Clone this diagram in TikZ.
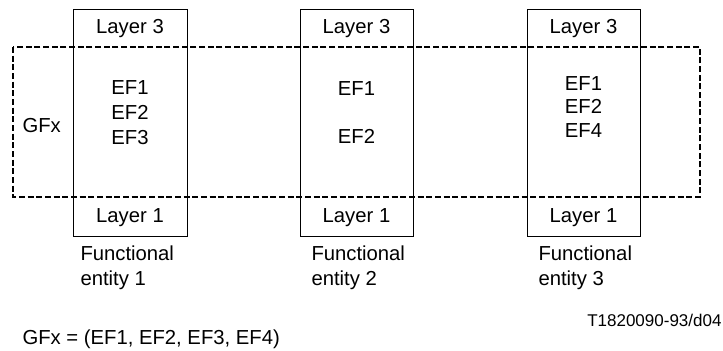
\documentclass[tikz,border=0pt]{standalone}
\usepackage{fontspec}
\setmainfont{Liberation Sans}

\tikzset{every picture/.style={line width=0.75pt}}
\tikzset{
  lbl/.style={inner sep=0pt,font=\fontsize{15.2}{18.2}\selectfont},
  code/.style={inner sep=0pt,font=\fontsize{12.75}{15}\selectfont},
  group/.style={line width=1.5,dash pattern=on 4.5pt off 2pt}
}

\begin{document}
\begin{tikzpicture}[x=0.75pt,y=0.75pt,yscale=-1,xscale=1]
    \useasboundingbox (0,0) rectangle (723,350); %diagram area 723 x 350

    %Shape: Rectangle [id:gfx] 
    \draw [group]  (13,47) rectangle (700,197) ;
    %Shape: Rectangle [id:fe1] 
    \draw   (73,9) rectangle (187,236) ;
    %Shape: Rectangle [id:fe2] 
    \draw   (300,9) rectangle (413,236) ;
    %Shape: Rectangle [id:fe3] 
    \draw   (527,9) rectangle (640,236) ;

    % Text Node
    \draw (130,33.3) node [anchor=base][lbl] (top1) {Layer 3};
    % Text Node
    \draw (356.5,33.3) node [anchor=base][lbl] (top2) {Layer 3};
    % Text Node
    \draw (583.5,33.3) node [anchor=base][lbl] (top3) {Layer 3};
    % Text Node
    \draw (130,222.7) node [anchor=base][lbl] (bot1) {Layer 1};
    % Text Node
    \draw (356.5,222.7) node [anchor=base][lbl] (bot2) {Layer 1};
    % Text Node
    \draw (583.5,222.7) node [anchor=base][lbl] (bot3) {Layer 1};

    % Text Node
    \draw (130,94.3) node [anchor=base][lbl] (ef11) {EF1};
    % Text Node
    \draw (130,119.3) node [anchor=base][lbl] (ef12) {EF2};
    % Text Node
    \draw (130,144.3) node [anchor=base][lbl] (ef13) {EF3};
    % Text Node
    \draw (356.5,95) node [anchor=base][lbl] (ef21) {EF1};
    % Text Node
    \draw (356.5,143.3) node [anchor=base][lbl] (ef22) {EF2};
    % Text Node
    \draw (583.5,90.7) node [anchor=base][lbl] (ef31) {EF1};
    % Text Node
    \draw (583.5,113.3) node [anchor=base][lbl] (ef32) {EF2};
    % Text Node
    \draw (583.5,137.3) node [anchor=base][lbl] (ef34) {EF4};

    % Text Node
    \draw (22,132.7) node [anchor=base west][lbl] (gfx) {GFx};

    % Text Node (base is the last line)
    \draw (80,285) node [anchor=base west][lbl,align=left] (name1) {Functional\\entity 1};
    % Text Node
    \draw (311,285) node [anchor=base west][lbl,align=left] (name2) {Functional\\entity 2};
    % Text Node
    \draw (538,285) node [anchor=base west][lbl,align=left] (name3) {Functional\\entity 3};

    % Text Node
    \draw (722,326) node [anchor=base east][code] (ref) {T1820090-93/d04};
    % Text Node
    \draw (22,344) node [anchor=base west][lbl] (def) {GFx = (EF1, EF2, EF3, EF4)};

\end{tikzpicture}
\end{document}
